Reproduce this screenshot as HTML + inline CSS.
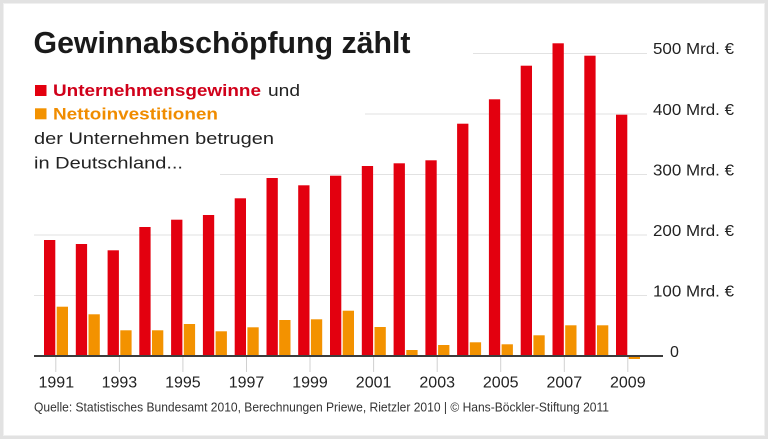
<!DOCTYPE html>
<html>
<head>
<meta charset="utf-8">
<style>
html,body{margin:0;padding:0;background:#fff;}
svg{display:block;}
text{font-family:"Liberation Sans",Arial,sans-serif;}
</style>
</head>
<body>
<svg width="768" height="439" viewBox="0 0 768 439" xmlns="http://www.w3.org/2000/svg">
<rect x="0" y="0" width="768" height="439" fill="#fff"/>
<rect x="1.5" y="1.5" width="765" height="436" fill="none" stroke="#e2e2e2" stroke-width="3"/>
<rect x="3.5" y="3.5" width="761" height="432" fill="none" stroke="#f0f0f0" stroke-width="1"/>

<!-- gridlines -->
<g stroke="#e2e2e2" stroke-width="1">
<line x1="473" y1="53.5" x2="647" y2="53.5"/>
<line x1="365" y1="114" x2="647" y2="114"/>
<line x1="220" y1="174.5" x2="647" y2="174.5"/>
<line x1="34" y1="235" x2="647" y2="235"/>
<line x1="34" y1="295.5" x2="647" y2="295.5"/>
</g>

<!-- ticks -->
<g stroke="#d0d0d0" stroke-width="1">
<line x1="55.8" y1="357" x2="55.8" y2="372"/>
<line x1="119.4" y1="357" x2="119.4" y2="372"/>
<line x1="182.9" y1="357" x2="182.9" y2="372"/>
<line x1="246.5" y1="357" x2="246.5" y2="372"/>
<line x1="310.0" y1="357" x2="310.0" y2="372"/>
<line x1="373.6" y1="357" x2="373.6" y2="372"/>
<line x1="437.2" y1="357" x2="437.2" y2="372"/>
<line x1="500.7" y1="357" x2="500.7" y2="372"/>
<line x1="564.3" y1="357" x2="564.3" y2="372"/>
<line x1="627.8" y1="357" x2="627.8" y2="372"/>
</g>

<!-- red bars -->
<g fill="#e3000f">
<rect x="44.0" y="240" width="11.3" height="116"/>
<rect x="75.8" y="244" width="11.3" height="112"/>
<rect x="107.6" y="250.3" width="11.3" height="105.7"/>
<rect x="139.3" y="227" width="11.3" height="129"/>
<rect x="171.1" y="219.7" width="11.3" height="136.3"/>
<rect x="202.9" y="215" width="11.3" height="141"/>
<rect x="234.7" y="198.3" width="11.3" height="157.7"/>
<rect x="266.5" y="178" width="11.3" height="178"/>
<rect x="298.2" y="185.3" width="11.3" height="170.7"/>
<rect x="330.0" y="175.7" width="11.3" height="180.3"/>
<rect x="361.8" y="166" width="11.3" height="190"/>
<rect x="393.6" y="163.3" width="11.3" height="192.7"/>
<rect x="425.4" y="160.3" width="11.3" height="195.7"/>
<rect x="457.1" y="123.7" width="11.3" height="232.3"/>
<rect x="488.9" y="99.3" width="11.3" height="256.7"/>
<rect x="520.7" y="65.7" width="11.3" height="290.3"/>
<rect x="552.5" y="43.3" width="11.3" height="312.7"/>
<rect x="584.3" y="55.7" width="11.3" height="300.3"/>
<rect x="616.0" y="114.7" width="11.3" height="241.3"/>
</g>

<!-- orange bars -->
<g fill="#f39200">
<rect x="56.7" y="306.7" width="11.3" height="49.3"/>
<rect x="88.5" y="314.3" width="11.3" height="41.7"/>
<rect x="120.3" y="330.3" width="11.3" height="25.7"/>
<rect x="152.0" y="330.3" width="11.3" height="25.7"/>
<rect x="183.8" y="324" width="11.3" height="32"/>
<rect x="215.6" y="331.3" width="11.3" height="24.7"/>
<rect x="247.4" y="327.3" width="11.3" height="28.7"/>
<rect x="279.2" y="320" width="11.3" height="36"/>
<rect x="310.9" y="319.3" width="11.3" height="36.7"/>
<rect x="342.7" y="310.7" width="11.3" height="45.3"/>
<rect x="374.5" y="327" width="11.3" height="29"/>
<rect x="406.3" y="350" width="11.3" height="6"/>
<rect x="438.1" y="345" width="11.3" height="11"/>
<rect x="469.8" y="342.3" width="11.3" height="13.7"/>
<rect x="501.6" y="344.3" width="11.3" height="11.7"/>
<rect x="533.4" y="335.3" width="11.3" height="20.7"/>
<rect x="565.2" y="325.3" width="11.3" height="30.7"/>
<rect x="597.0" y="325.3" width="11.3" height="30.7"/>
<rect x="628.7" y="356" width="11.3" height="3"/>
</g>

<!-- baseline -->
<rect x="34" y="355" width="629" height="2" fill="#3c3c3c"/>

<!-- title -->
<text x="33.5" y="53" font-size="31" font-weight="bold" fill="#1a1a1a" textLength="377" lengthAdjust="spacingAndGlyphs">Gewinnabschöpfung zählt</text>

<!-- legend -->
<rect x="35" y="85" width="11.5" height="11" fill="#e3000f"/>
<text x="53" y="96" font-size="17" font-weight="bold" fill="#d0001a" textLength="208" lengthAdjust="spacingAndGlyphs">Unternehmensgewinne</text>
<text x="268" y="96" font-size="17" fill="#222" textLength="32" lengthAdjust="spacingAndGlyphs">und</text>
<rect x="35" y="108.3" width="11.5" height="11" fill="#f39200"/>
<text x="53" y="119.3" font-size="17" font-weight="bold" fill="#f08c00" textLength="165" lengthAdjust="spacingAndGlyphs">Nettoinvestitionen</text>
<text x="34" y="144" font-size="17" fill="#222" textLength="240" lengthAdjust="spacingAndGlyphs">der Unternehmen betrugen</text>
<text x="34" y="168.7" font-size="17" fill="#222" textLength="149" lengthAdjust="spacingAndGlyphs">in Deutschland...</text>

<!-- y labels -->
<g font-size="16" fill="#222">
<text x="653" y="54" textLength="81" lengthAdjust="spacingAndGlyphs">500 Mrd. €</text>
<text x="653" y="115" textLength="81" lengthAdjust="spacingAndGlyphs">400 Mrd. €</text>
<text x="653" y="175.5" textLength="81" lengthAdjust="spacingAndGlyphs">300 Mrd. €</text>
<text x="653" y="236" textLength="81" lengthAdjust="spacingAndGlyphs">200 Mrd. €</text>
<text x="653" y="296.5" textLength="81" lengthAdjust="spacingAndGlyphs">100 Mrd. €</text>
<text x="670" y="357">0</text>
</g>

<!-- x labels -->
<g font-size="16" fill="#222" text-anchor="middle">
<text x="56.3" y="387.3">1991</text>
<text x="119.4" y="387.3">1993</text>
<text x="182.9" y="387.3">1995</text>
<text x="246.5" y="387.3">1997</text>
<text x="310.0" y="387.3">1999</text>
<text x="373.6" y="387.3">2001</text>
<text x="437.2" y="387.3">2003</text>
<text x="500.7" y="387.3">2005</text>
<text x="564.3" y="387.3">2007</text>
<text x="627.8" y="387.3">2009</text>
</g>

<!-- footer -->
<text x="34" y="411.7" font-size="12.5" fill="#333" textLength="575" lengthAdjust="spacingAndGlyphs">Quelle: Statistisches Bundesamt  2010, Berechnungen Priewe, Rietzler 2010 | © Hans-Böckler-Stiftung 2011</text>
</svg>
</body>
</html>
